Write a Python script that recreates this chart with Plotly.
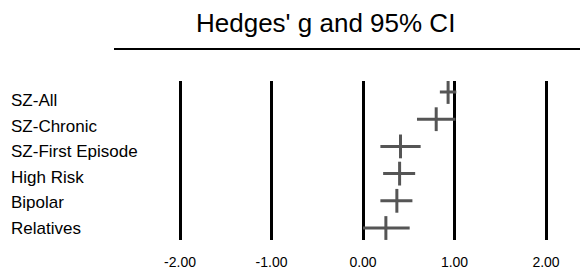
import plotly.graph_objects as go

groups = ["SZ-All", "SZ-Chronic", "SZ-First Episode", "High Risk", "Bipolar", "Relatives"]
hedges_g = [0.93, 0.80, 0.41, 0.40, 0.37, 0.25]
ci_low = [0.84, 0.59, 0.19, 0.22, 0.19, 0.00]
ci_high = [1.02, 1.01, 0.63, 0.57, 0.54, 0.51]
tick_values = [-2, -1, 0, 1, 2]
tick_labels = ["-2.00", "-1.00", "0.00", "1.00", "2.00"]
title_text = "Hedges' g and 95% CI"

W, H = 580, 272
mark_color = "#555555"
font_family = "Liberation Sans, Arial, sans-serif"

fig = go.Figure()
fig.add_trace(go.Scatter(
    x=hedges_g,
    y=groups,
    mode="markers",
    marker=dict(symbol="line-ns", size=17, line=dict(width=3, color=mark_color), color=mark_color),
    error_x=dict(
        type="data",
        symmetric=False,
        array=[h - g for h, g in zip(ci_high, hedges_g)],
        arrayminus=[g - l for g, l in zip(hedges_g, ci_low)],
        width=0,
        thickness=3,
        color=mark_color,
    ),
    showlegend=False,
    hoverinfo="skip",
))

# row labels on a second (hidden) category axis with slightly tighter spacing
for g in groups:
    fig.add_annotation(
        x=9 / W, xref="paper", y=g, yref="y2",
        text=g, showarrow=False, xanchor="left", yanchor="middle",
        font=dict(family=font_family, size=17, color="black"),
    )

fig.add_annotation(
    x=325 / W, xref="paper", y=1, yref="paper", yshift=58,
    text=title_text, showarrow=False, xanchor="center", yanchor="middle",
    font=dict(family=font_family, size=26, color="black"),
)

fig.add_shape(
    type="line", xref="paper", yref="paper",
    x0=114 / W, x1=1, y0=32, y1=32,
    ysizemode="pixel", yanchor=1,
    line=dict(color="black", width=2),
)

fig.update_layout(
    width=W, height=H,
    margin=dict(l=0, r=0, t=81, b=32),
    paper_bgcolor="white", plot_bgcolor="white",
    xaxis=dict(
        range=[-363 / 91.5, 217 / 91.5],
        tickvals=tick_values, ticktext=tick_labels,
        showgrid=True, gridcolor="black", gridwidth=3,
        zeroline=False, showline=False, ticks="",
        ticklabelstandoff=12,
        tickfont=dict(family=font_family, size=14, color="black"),
        fixedrange=True,
    ),
    yaxis=dict(
        type="category", categoryarray=groups,
        range=[5.44, -0.404],
        showgrid=False, zeroline=False, showticklabels=False, showline=False,
        fixedrange=True,
    ),
    yaxis2=dict(
        type="category", categoryarray=groups,
        range=[5.472, -0.787],
        overlaying="y", side="right",
        showgrid=False, zeroline=False, showticklabels=False, showline=False,
        fixedrange=True,
    ),
)

fig.write_html(
    "out.html",
    config={"displayModeBar": False},
    post_script="document.body.style.margin='0';document.body.style.padding='0';",
)
